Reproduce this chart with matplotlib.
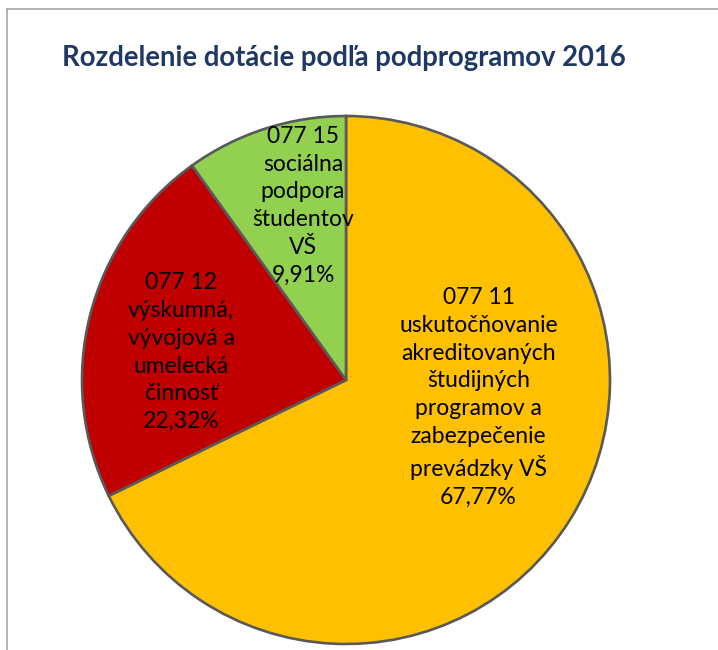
import matplotlib
matplotlib.use("Agg")
import matplotlib.pyplot as plt
from matplotlib.lines import Line2D

title = "Rozdelenie dotácie podľa podprogramov 2016"
codes = ["077 11", "077 12", "077 15"]
names = [
    "uskutočňovanie\nakreditovaných\nštudijných\nprogramov a\nzabezpečenie\nprevádzky VŠ",
    "výskumná,\nvývojová a\numelecká\nčinnosť",
    "sociálna\npodpora\nštudentov\nVŠ",
]
shares = [67.77, 22.32, 9.91]
colors = ["#FFC000", "#C00000", "#92D050"]

plt.rcParams['font.family'] = ['Lato', 'DejaVu Sans']

W, H = 718, 650
fig = plt.figure(figsize=(W / 100, H / 100), dpi=100)
fig.patch.set_facecolor("white")

# frame lines (left and top)
fig.add_artist(Line2D([7 / W, 7 / W], [0, 1 - 9 / H], transform=fig.transFigure,
                      color="#A6A6A6", lw=1.2))
fig.add_artist(Line2D([7 / W, 1], [1 - 9 / H, 1 - 9 / H], transform=fig.transFigure,
                      color="#A6A6A6", lw=1.2))

fig.text(62 / W, 1 - 58 / H, title, fontsize=19.8, fontweight="bold",
         color="#1F3864", ha="left", va="center")

cx, cy, r = 346, 380, 264
ax = fig.add_axes([(cx - r) / W, (H - cy - r) / H, 2 * r / W, 2 * r / H])

ax.pie(shares, colors=colors, startangle=90, counterclock=False, radius=1,
       wedgeprops=dict(edgecolor="#595959", linewidth=1.9))
ax.set_xlim(-1, 1)
ax.set_ylim(-1, 1)
ax.set_aspect("equal")
ax.axis("off")

label_pos = [(0.502, -0.067), (-0.624, 0.105), (-0.163, 0.66)]
for code, name, val, (lx, ly) in zip(codes, names, shares, label_pos):
    txt = f"{code}\n{name}\n{val:.2f}%".replace(".", ",")
    ax.text(lx, ly, txt, ha="center", va="center", fontsize=16.5,
            color="black", linespacing=1.4)

fig.savefig("out.png", dpi=100)
